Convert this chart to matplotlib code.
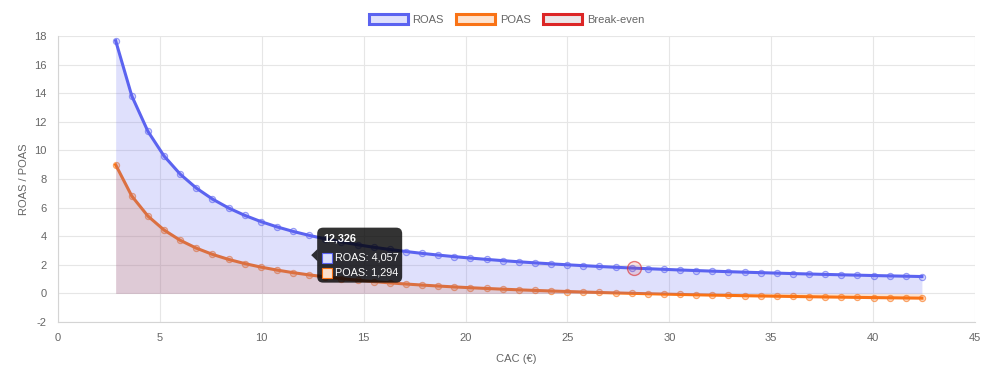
import numpy as np
import matplotlib
matplotlib.use("Agg")
import matplotlib.pyplot as plt
from matplotlib.patches import Patch, FancyBboxPatch, Polygon, Rectangle
from matplotlib.transforms import ScaledTranslation

# ---------------------------------------------------------------------------
# data
# ---------------------------------------------------------------------------
cac = [2.830, 3.621, 4.413, 5.204, 5.995, 6.787, 7.578, 8.369, 9.160, 9.952,
       10.743, 11.534, 12.326, 13.117, 13.908, 14.700, 15.491, 16.282, 17.073, 17.865,
       18.656, 19.447, 20.239, 21.030, 21.821, 22.613, 23.404, 24.195, 24.986, 25.778,
       26.569, 27.360, 28.152, 28.943, 29.734, 30.526, 31.317, 32.108, 32.899, 33.691,
       34.482, 35.273, 36.065, 36.856, 37.647, 38.439, 39.230, 40.021, 40.812, 41.604,
       42.395]

roas = [17.668, 13.808, 11.330, 9.608, 8.340, 7.367, 6.598, 5.974, 5.459, 5.024,
        4.654, 4.335, 4.057, 3.812, 3.595, 3.401, 3.228, 3.071, 2.929, 2.799,
        2.680, 2.571, 2.470, 2.378, 2.291, 2.211, 2.136, 2.067, 2.001, 1.940,
        1.882, 1.827, 1.776, 1.728, 1.682, 1.638, 1.597, 1.557, 1.520, 1.484,
        1.450, 1.418, 1.386, 1.357, 1.328, 1.301, 1.275, 1.249, 1.225, 1.202,
        1.179]

poas = [8.991, 6.808, 5.407, 4.433, 3.716, 3.166, 2.731, 2.378, 2.087, 1.841,
        1.632, 1.451, 1.294, 1.156, 1.033, 0.923, 0.825, 0.737, 0.656, 0.583,
        0.516, 0.454, 0.397, 0.345, 0.296, 0.250, 0.208, 0.169, 0.132, 0.097,
        0.064, 0.033, 0.004, -0.023, -0.049, -0.074, -0.097, -0.120, -0.140, -0.161,
        -0.180, -0.198, -0.216, -0.233, -0.249, -0.264, -0.279, -0.294, -0.307, -0.320,
        -0.333]

breakeven_cac = [28.28]
breakeven_roas = [1.768]

hover_idx = 12  # point shown in the tooltip

# ---------------------------------------------------------------------------
# style
# ---------------------------------------------------------------------------
BLUE = "#5b63f0"
BLUE_FILL = (99 / 255, 102 / 255, 241 / 255, 0.2)
ORANGE = "#f97316"
ORANGE_FILL = (249 / 255, 115 / 255, 22 / 255, 0.2)
RED = "#dc2626"
GRID = "#e6e6e6"
TXT = "#666666"

plt.rcParams["font.family"] = ["Liberation Sans", "DejaVu Sans"]
plt.rcParams["font.size"] = 8
plt.rcParams["axes.unicode_minus"] = False

fig = plt.figure(figsize=(10.07, 3.75), dpi=100)
ax = fig.add_axes([58 / 1007, 1 - 322 / 375, (975 - 58) / 1007, (322 - 36) / 375])

# POAS (under the ROAS fill)
ax.fill_between(cac, poas, 0, color=ORANGE_FILL, lw=0, zorder=1)
ax.plot(cac, poas, color=ORANGE, lw=2.2, zorder=2,
        marker="o", ms=4.5, mfc=(249 / 255, 115 / 255, 22 / 255, 0.3),
        mec=(249 / 255, 115 / 255, 22 / 255, 0.6), mew=0.8)

# ROAS
ax.fill_between(cac, roas, 0, color=BLUE_FILL, lw=0, zorder=3)
ax.plot(cac, roas, color=BLUE, lw=2.2, zorder=4,
        marker="o", ms=4.5, mfc=(99 / 255, 102 / 255, 241 / 255, 0.25),
        mec=(91 / 255, 99 / 255, 240 / 255, 0.6), mew=0.8)

# break-even point
ax.plot(breakeven_cac, breakeven_roas, linestyle="none", marker="o", ms=10,
        mfc=(220 / 255, 38 / 255, 38 / 255, 0.12),
        mec=(220 / 255, 38 / 255, 38 / 255, 0.6), mew=1.0, zorder=5)

# axes
ax.set_xlim(0, 45)
ax.set_ylim(-2, 18)
ax.set_xticks(np.arange(0, 46, 5))
ax.set_yticks(np.arange(-2, 19, 2))
ax.grid(True, color=GRID, lw=0.8, zorder=0)
ax.set_axisbelow(True)
for side in ["top", "right"]:
    ax.spines[side].set_visible(False)
for side in ["left", "bottom"]:
    ax.spines[side].set_color("#d4d4d4")
    ax.spines[side].set_linewidth(0.8)
ax.tick_params(length=0, pad=8, colors=TXT, labelsize=8)
ax.set_xlabel("CAC (€)", color=TXT, fontsize=8, labelpad=8)
ax.set_ylabel("ROAS / POAS", color=TXT, fontsize=8, labelpad=4)

# legend
handles = [
    Patch(facecolor=BLUE_FILL, edgecolor=BLUE, lw=2.2, label="ROAS"),
    Patch(facecolor=ORANGE_FILL, edgecolor=ORANGE, lw=2.2, label="POAS"),
    Patch(facecolor="#ebe6e8", edgecolor=RED, lw=2.2, label="Break-even"),
]
fig.legend(handles=handles, loc="center", bbox_to_anchor=(0.503, 0.949), ncol=3,
           frameon=False, handlelength=3.5, handleheight=1.05,
           handletextpad=0.45, columnspacing=1.1, labelcolor=TXT, fontsize=8)

# tooltip
hx = cac[hover_idx]
hy = (roas[hover_idx] + poas[hover_idx]) / 2
tr = fig.dpi_scale_trans + ScaledTranslation(hx, hy, ax.transData)
p = 0.01  # one pixel in inches
box = FancyBboxPatch((8 * p, -27.5 * p), 85 * p, 55 * p,
                     boxstyle="round,pad=0,rounding_size=0.06",
                     transform=tr, fc=(0, 0, 0, 0.8), ec="none", zorder=10)
ax.add_artist(box)
caret = Polygon([(2 * p, 0), (8.2 * p, 6 * p), (8.2 * p, -6 * p)], closed=True,
                transform=tr, fc=(0, 0, 0, 0.8), ec="none", zorder=10)
ax.add_artist(caret)
ax.text(14 * p, 17 * p, f"{hx:.3f}".replace(".", ","), transform=tr,
        color="white", fontweight="bold", fontsize=7.8, va="center", ha="left", zorder=11)
rows = [("ROAS", roas[hover_idx], (0.86, 0.87, 0.99), BLUE, -2.5),
        ("POAS", poas[hover_idx], (0.99, 0.88, 0.80), ORANGE, -17.5)]
for name, val, fc, ec, dy in rows:
    ax.add_artist(Rectangle((13 * p, (dy - 5) * p), 10 * p, 10 * p, transform=tr,
                            fc=fc, ec=ec, lw=0.8, zorder=11))
    ax.text(25.5 * p, dy * p, f"{name}: {val:.3f}".replace(".", ","), transform=tr,
            color="white", fontsize=7.8, va="center", ha="left", zorder=11)

fig.savefig("out.png", dpi=100)
